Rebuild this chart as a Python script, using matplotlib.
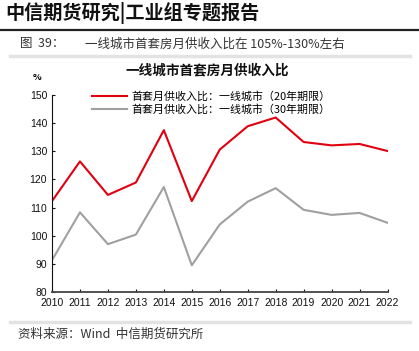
import matplotlib
matplotlib.use("Agg")
import matplotlib.pyplot as plt
from matplotlib.lines import Line2D

plt.rcParams['font.family'] = ['Noto Sans CJK SC', 'DejaVu Sans']

years = [2010, 2011, 2012, 2013, 2014, 2015, 2016, 2017, 2018, 2019, 2020, 2021, 2022]
ratio_20y = [112.3, 126.4, 114.5, 118.9, 137.5, 112.3, 130.6, 138.9, 142.0, 133.3, 132.1, 132.6, 130.1]
ratio_30y = [91.3, 108.3, 97.0, 100.4, 117.3, 89.5, 104.0, 112.1, 116.9, 109.2, 107.4, 108.1, 104.6]
labels = ['首套月供收入比：一线城市（20年期限）', '首套月供收入比：一线城市（30年期限）']
yticks = [80, 90, 100, 110, 120, 130, 140, 150]

fig = plt.figure(figsize=(4.19, 3.51), dpi=100)

# header
fig.text(0.012, 0.962, '中信期货研究|工业组专题报告', fontsize=13.8, fontweight='bold',
         ha='left', va='center', color='#111111')
fig.add_artist(Line2D([0, 1], [1 - 30 / 351, 1 - 30 / 351], color='#222222', lw=1.6))
fig.text(0.048, 1 - 44 / 351, '图  39：', fontsize=9, ha='left', va='center', color='#333333')
fig.text(0.203, 1 - 44 / 351, '一线城市首套房月供收入比在 105%-130%左右', fontsize=9,
         ha='left', va='center', color='#333333')
fig.add_artist(Line2D([10 / 419, 410 / 419], [1 - 56 / 351, 1 - 56 / 351], color='#e3e3e3', lw=2.5))
fig.add_artist(Line2D([10 / 419, 410 / 419], [1 - 322 / 351, 1 - 322 / 351], color='#e3e3e3', lw=2.5))
fig.text(0.043, 1 - 334 / 351, '资料来源：Wind  中信期货研究所', fontsize=9, ha='left', va='center',
         color='#333333')

ax = fig.add_axes([52 / 419, 1 - 292 / 351, (387.5 - 52) / 419, (292 - 95) / 351])
ax.plot(years, ratio_20y, color='#e00010', lw=1.5, label=labels[0])
ax.plot(years, ratio_30y, color='#a0a0a0', lw=1.5, label=labels[1])

ax.set_xlim(2010, 2022)
ax.set_ylim(80, 150)
ax.set_xticks(years)
ax.set_yticks(yticks)
ax.tick_params(axis='both', direction='in', length=2.5, width=0.8, labelsize=7.5, colors='#111111')
ax.tick_params(axis='x', pad=4)
for lab in ax.get_xticklabels() + ax.get_yticklabels():
    lab.set_family(['Liberation Sans', 'DejaVu Sans'])
ax.spines['top'].set_visible(False)
ax.spines['right'].set_visible(False)
ax.spines['left'].set_color('#111111')
ax.spines['bottom'].set_color('#444444')
ax.spines['bottom'].set_linewidth(1.3)

fig.text(207 / 419, 1 - 70 / 351, '一线城市首套房月供收入比', fontsize=9.8, fontweight='bold',
         ha='center', va='center', color='#111111')
fig.text(37 / 419, 1 - 77 / 351, '%', fontsize=6.5, fontweight='bold', ha='center', va='center')

ax.legend(loc='upper left', bbox_to_anchor=(0.105, 1.04), frameon=False, fontsize=7.9,
          handlelength=3.2, handletextpad=0.4, labelspacing=0.15, borderaxespad=0)

fig.savefig('out.png', dpi=100)
